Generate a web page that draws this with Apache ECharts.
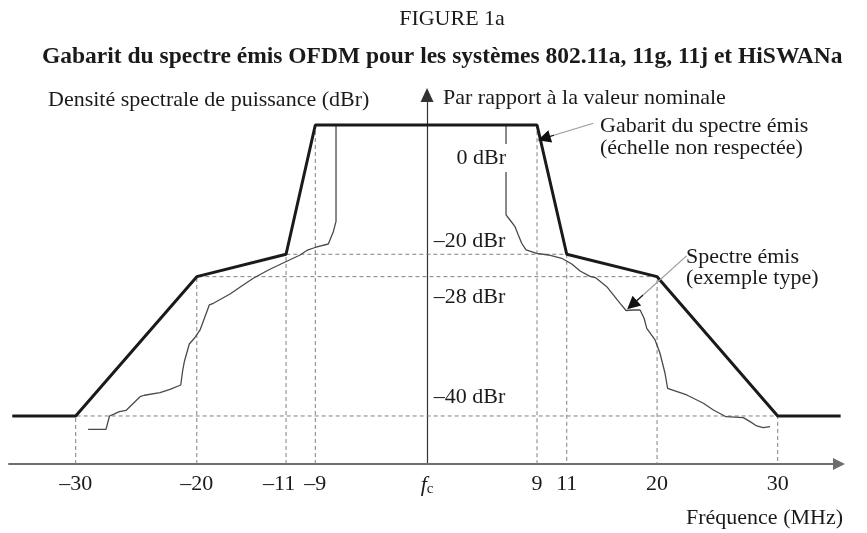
<!DOCTYPE html>
<html>
<head>
<meta charset="utf-8">
<script src="https://cdn.jsdelivr.net/npm/echarts@6/dist/echarts.min.js"></script>
<style>
  html, body { margin: 0; padding: 0; background: #fff; }
  #chart { width: 867px; height: 533px; }
</style>
</head>
<body>
<div id="chart"></div>
<script>
// figure is not to scale: x and y are in the drawing's own units
const freqTickAt = [-30.03, -19.68, -12.05, -9.55, 0, 9.4, 11.94, 19.66, 29.97];
const freqTickLabels = ['–30', '–20', '–11', '–9', 'fc', '9', '11', '20', '30'];

const levelValues = [0, -17.77, -20.85, -40];
const levelNames = ['0 dBr', '–20 dBr', '–28 dBr', '–40 dBr'];
const levelNameAt = [-4.54, -15.95, -23.64, -37.39];

const maskFreq = [-35.45, -30.03, -19.68, -12.05, -9.55, 9.4, 11.94, 19.66, 29.97, 35.35];
const maskLevel = [-40, -40, -20.85, -17.77, 0, 0, -17.77, -20.85, -40, -40];

const specFreq = [-28.97, -27.44, -27.14, -26.81, -26.30, -25.73, -24.53, -24.16, -22.82, -21.97,
  -21.05, -20.88, -20.73, -20.32, -19.89, -19.40, -18.61, -18.26, -16.84, -15.84,
  -14.85, -13.56, -11.85, -10.85, -10.28, -9.57, -8.44, -8.01, -7.78, -7.78,
  6.75, 6.75, 7.09, 7.52, 7.80, 8.09, 8.46, 9.38, 10.37, 11.51,
  12.37, 13.08, 13.93, 14.44, 15.36, 16.50, 17.01, 17.63, 18.21, 18.55,
  18.78, 19.49, 19.91, 20.34, 20.56, 22.20, 23.62, 24.47, 25.56, 27.03,
  27.61, 28.18, 28.74, 29.32];
const specLevel = [-41.83, -41.83, -40.0, -39.77, -39.41, -39.24, -37.35, -37.15, -36.80, -36.33,
  -35.74, -33.68, -32.44, -30.10, -29.32, -28.18, -24.74, -24.51, -23.23, -22.13,
  -21.07, -19.93, -18.63, -17.87, -17.25, -16.84, -16.36, -14.67, -13.26, 0,
  0, -12.37, -13.06, -13.98, -15.12, -16.26, -17.18, -17.64, -17.87, -18.32,
  -19.11, -20.07, -20.82, -21.03, -22.23, -24.51, -25.50, -25.43, -25.43, -26.57,
  -27.95, -29.55, -31.38, -34.13, -36.19, -37.11, -38.25, -39.18, -40.10, -40.23,
  -40.78, -41.37, -41.61, -41.47];

// dashed guides: left freq, right freq, level
const guideLeft = [-30.03, -19.68, -12.05, -9.55];
const guideRight = [29.97, 19.66, 11.94, 9.4];
const guideLevel = [-40, -20.85, -17.77, 0];

// leader lines [from, to]
const noteMask = [[14.21, 0.23], [10.0, -1.83]];
const noteSpec = [[22.18, -18.0], [17.52, -24.74]];

const X_MIN = -35.73, X_MAX = 35.21, Y_MIN = -46.6, Y_MAX = 4.12;
const FONT = '"Liberation Serif", "Times New Roman", serif';
const INK = '#1a1a1a';

const chart = echarts.init(document.getElementById('chart'));

function pairs(xs, ys) {
  return xs.map((x, i) => [x, ys[i]]);
}

function headOf(note) {
  // short piece near the tip, carries the black arrow head
  const a = note[0], b = note[1];
  return [[b[0] + (a[0] - b[0]) * 0.2, b[1] + (a[1] - b[1]) * 0.2], b];
}

const guideSeries = guideLeft.map((l, i) => ({
  type: 'line',
  name: 'guide' + i,
  silent: true,
  symbol: 'none',
  z: 1,
  lineStyle: { color: '#808080', width: 1, type: [4, 3] },
  data: [[l, Y_MIN], [l, guideLevel[i]], [guideRight[i], guideLevel[i]], [guideRight[i], Y_MIN]]
}));

chart.setOption({
  animation: false,
  backgroundColor: '#fff',
  textStyle: { fontFamily: FONT },
  grid: { left: 9, right: 28, top: 95, bottom: 69 },
  xAxis: {
    type: 'value',
    min: X_MIN,
    max: X_MAX,
    axisLine: {
      onZero: false,
      symbol: ['none', 'triangle'],
      symbolSize: [12, 12],
      lineStyle: { color: '#6e6e6e', width: 2 }
    },
    axisTick: { show: false },
    splitLine: { show: false },
    axisLabel: {
      customValues: freqTickAt,
      margin: 9,
      color: INK,
      fontFamily: FONT,
      fontSize: 22,
      formatter: function (v) {
        const i = freqTickAt.indexOf(v);
        const s = freqTickLabels[i];
        if (s === 'fc') return '{f|f}{c|c}';
        if (s === '–11') return '{l|–11}';
        return s;
      },
      rich: {
        f: { fontFamily: FONT, fontSize: 22, fontStyle: 'italic', color: INK },
        c: { fontFamily: FONT, fontSize: 15, color: INK, padding: [9, 0, 0, 0] },
        l: { fontFamily: FONT, fontSize: 22, color: INK, padding: [0, 14, 0, 0] }
      }
    }
  },
  yAxis: {
    type: 'value',
    min: Y_MIN,
    max: Y_MAX,
    axisLine: {
      show: true,
      onZero: true,
      symbol: ['none', 'triangle'],
      symbolSize: [13, 14],
      lineStyle: { color: '#333', width: 1.2 }
    },
    axisTick: { show: false },
    axisLabel: { show: false },
    splitLine: { show: false }
  },
  series: guideSeries.concat([
    {
      type: 'line',
      name: 'Spectre émis',
      symbol: 'none',
      z: 3,
      lineStyle: { color: '#4a4a4a', width: 1.3 },
      data: pairs(specFreq, specLevel)
    },
    {
      type: 'line',
      name: 'Gabarit',
      symbol: 'none',
      clip: false,
      z: 4,
      lineStyle: { color: INK, width: 3 },
      data: pairs(maskFreq, maskLevel)
    },
    {
      type: 'lines',
      coordinateSystem: 'cartesian2d',
      silent: true,
      z: 5,
      symbol: 'none',
      lineStyle: { color: '#9a9a9a', width: 1.2, opacity: 1 },
      data: [{ coords: noteMask }, { coords: noteSpec }]
    },
    {
      type: 'lines',
      coordinateSystem: 'cartesian2d',
      silent: true,
      z: 6,
      symbol: ['none', 'triangle'],
      symbolSize: [9, 13],
      lineStyle: { color: '#111', width: 1.2, opacity: 1 },
      data: [{ coords: headOf(noteMask) }, { coords: headOf(noteSpec) }]
    },
    {
      type: 'scatter',
      name: 'niveaux',
      symbolSize: 0,
      silent: true,
      z: 8,
      itemStyle: { opacity: 1 },
      data: levelNames.map((n, i) => ({
        value: [i === 0 ? 6.84 : 0.49, levelNameAt[i]],
        label: {
          show: true,
          formatter: n,
          position: i === 0 ? 'left' : 'right',
          distance: 0,
          color: INK,
          fontFamily: FONT,
          fontSize: 22,
          backgroundColor: i === 0 ? '#fff' : 'transparent',
          padding: [3, 1, 3, 1]
        }
      }))
    }
  ]),
  graphic: [
    { type: 'text', x: 452, y: 19, style: { text: 'FIGURE 1a', font: '22px ' + FONT, fill: INK, textAlign: 'center', textVerticalAlign: 'middle' } },
    { type: 'text', x: 42, y: 57, style: { text: 'Gabarit du spectre émis OFDM pour les systèmes 802.11a, 11g, 11j et HiSWANa', font: 'bold 23.5px ' + FONT, fill: INK, textAlign: 'left', textVerticalAlign: 'middle' } },
    { type: 'text', x: 48, y: 100, style: { text: 'Densité spectrale de puissance (dBr)', font: '22px ' + FONT, fill: INK, textAlign: 'left', textVerticalAlign: 'middle' } },
    { type: 'text', x: 443, y: 98, style: { text: 'Par rapport à la valeur nominale', font: '22px ' + FONT, fill: INK, textAlign: 'left', textVerticalAlign: 'middle' } },
    { type: 'text', x: 600, y: 115, style: { text: 'Gabarit du spectre émis\n(échelle non respectée)', font: '22px ' + FONT, lineHeight: 22, fill: INK, textAlign: 'left', textVerticalAlign: 'top' } },
    { type: 'text', x: 686, y: 247, style: { text: 'Spectre émis\n(exemple type)', font: '22px ' + FONT, lineHeight: 21, fill: INK, textAlign: 'left', textVerticalAlign: 'top' } },
    { type: 'text', x: 843, y: 518, style: { text: 'Fréquence (MHz)', font: '22px ' + FONT, fill: INK, textAlign: 'right', textVerticalAlign: 'middle' } }
  ]
});
</script>
</body>
</html>
